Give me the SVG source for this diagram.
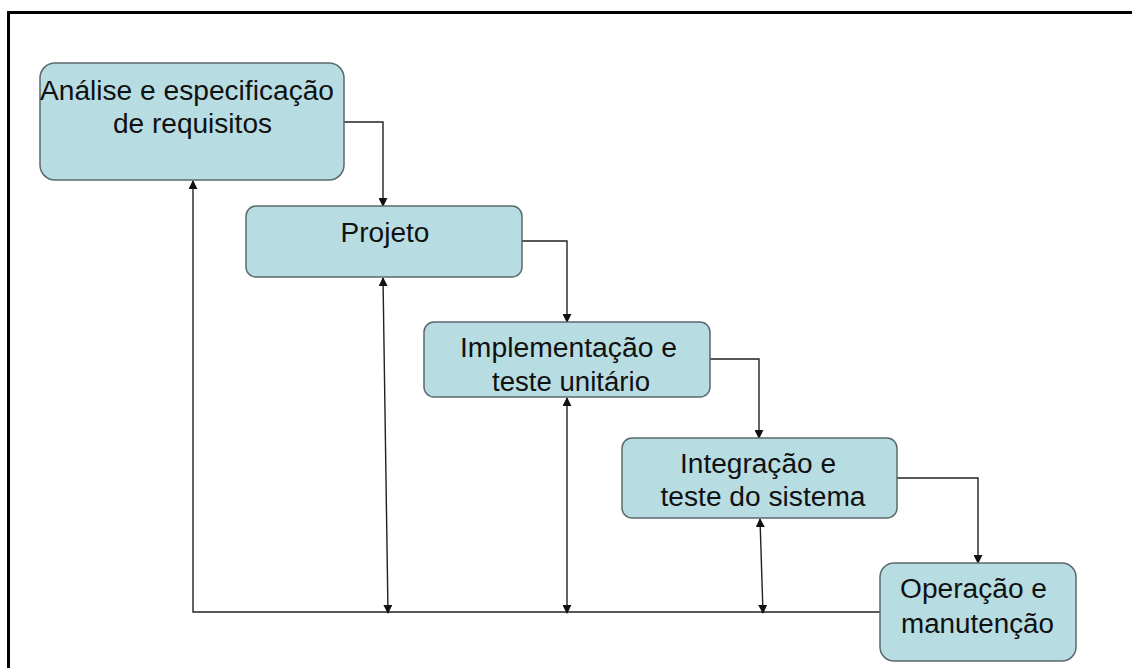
<svg xmlns="http://www.w3.org/2000/svg" width="1132" height="668" viewBox="0 0 1132 668">
<style>
.box{fill:#b7dde3;stroke:#5a6a6c;stroke-width:1.5}
.t{font-family:"Liberation Sans",Arial,sans-serif;font-size:27px;fill:#111;text-anchor:middle}
.c{fill:none;stroke:#222;stroke-width:1.4}
</style>
<defs>
<marker id="ah" viewBox="0 0 10 10" refX="9" refY="5" markerWidth="9" markerHeight="9" markerUnits="userSpaceOnUse" orient="auto-start-reverse">
<path d="M0,0 L10,5 L0,10 Z" fill="#111"/>
</marker>
</defs>
<rect width="1132" height="668" fill="#fff"/>
<path d="M8.5 668 V12.5 H1132" fill="none" stroke="#000" stroke-width="3"/>
<g id="connectors">
<path class="c" d="M344 122 H383 V206" marker-end="url(#ah)"/>
<path class="c" d="M522 241 H567 V322" marker-end="url(#ah)"/>
<path class="c" d="M710 359 H759 V438" marker-end="url(#ah)"/>
<path class="c" d="M897 478 H978 V563" marker-end="url(#ah)"/>
<path class="c" d="M880 612 H193 V181" marker-end="url(#ah)"/>
<path class="c" d="M383 278 L388 613" marker-start="url(#ah)" marker-end="url(#ah)"/>
<path class="c" d="M567 398 L567 613" marker-start="url(#ah)" marker-end="url(#ah)"/>
<path class="c" d="M760 519 L763 613" marker-start="url(#ah)" marker-end="url(#ah)"/>
</g>
<g id="n1">
<rect class="box" x="40" y="63" width="304" height="117" rx="15"/>
<text class="t" x="187" y="100" textLength="294" lengthAdjust="spacingAndGlyphs">Análise e especificação</text>
<text class="t" x="192.5" y="133" textLength="159" lengthAdjust="spacingAndGlyphs">de requisitos</text>
</g>
<g id="n2">
<rect class="box" x="246" y="206" width="276" height="71" rx="10"/>
<text class="t" x="385" y="242" textLength="89" lengthAdjust="spacingAndGlyphs">Projeto</text>
</g>
<g id="n3">
<rect class="box" x="424" y="322" width="286" height="75" rx="10"/>
<text class="t" x="568.5" y="357" textLength="217" lengthAdjust="spacingAndGlyphs">Implementação e</text>
<text class="t" x="571" y="391" textLength="158" lengthAdjust="spacingAndGlyphs">teste unitário</text>
</g>
<g id="n4">
<rect class="box" x="622" y="438" width="275" height="80" rx="10"/>
<text class="t" x="758" y="473" textLength="156" lengthAdjust="spacingAndGlyphs">Integração e</text>
<text class="t" x="763" y="506" textLength="205" lengthAdjust="spacingAndGlyphs">teste do sistema</text>
</g>
<g id="n5">
<rect class="box" x="880" y="563" width="196" height="98" rx="14"/>
<text class="t" x="973.5" y="598" textLength="147" lengthAdjust="spacingAndGlyphs">Operação e</text>
<text class="t" x="977.5" y="633" textLength="153" lengthAdjust="spacingAndGlyphs">manutenção</text>
</g>
</svg>
